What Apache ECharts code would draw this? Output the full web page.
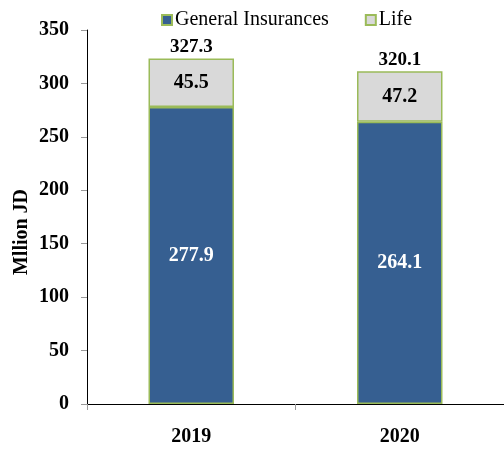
<!DOCTYPE html>
<html><head><meta charset="utf-8">
<script src="https://cdn.jsdelivr.net/npm/echarts@6/dist/echarts.min.js"></script>
<style>html,body{margin:0;padding:0;background:#fff}#c{width:504px;height:449px}</style>
</head><body><div id="c"></div>
<script>
const categories = ['2019', '2020'];
const generalIns = [277.9, 264.1];
const life = [45.5, 47.2];
const totals = [327.3, 320.1];
const yTicks = [0, 50, 100, 150, 200, 250, 300, 350];
const yAxisTitle = 'Mllion JD';

const font = '"Liberation Serif","Times New Roman",serif';
const chart = echarts.init(document.getElementById('c'));
chart.setOption({
  animation: false,
  textStyle: {fontFamily: font},
  legend: {
    top: 5, left: 156, itemGap: 36, itemWidth: 10, itemHeight: 10,
    icon: 'rect',
    textStyle: {fontFamily: font, fontSize: 20, color: '#000', padding: [0, 0, 0, -2]},
    data: ['General Insurances', 'Life']
  },
  grid: {left: 87, right: -5, top: 30, bottom: 45, containLabel: false},
  xAxis: {
    type: 'category', data: categories,
    axisLine: {lineStyle: {color: '#000', width: 1}},
    axisTick: {show: true, length: 6, lineStyle: {color: '#999'}},
    axisLabel: {fontFamily: font, fontSize: 20, fontWeight: 'bold', color: '#000', margin: 23}
  },
  yAxis: {
    type: 'value', min: yTicks[0], max: yTicks[yTicks.length - 1], interval: 50,
    axisLine: {show: true, lineStyle: {color: '#000', width: 1}},
    axisTick: {show: true, length: 6, lineStyle: {color: '#999'}},
    axisLabel: {fontFamily: font, fontSize: 20, fontWeight: 'bold', color: '#000', margin: 18},
    splitLine: {show: false}
  },
  graphic: [{
    type: 'text', x: 22, y: 232, rotation: Math.PI / 2,
    style: {text: yAxisTitle, font: 'bold 20px ' + font, fill: '#000', align: 'center', verticalAlign: 'middle'}
  }],
  series: [
    {
      name: 'General Insurances', type: 'bar', stack: 's', data: generalIns, barWidth: '41%',
      itemStyle: {color: '#365F91', borderColor: '#9BBB59', borderWidth: 1.5},
      label: {show: true, position: 'inside', color: '#fff', fontFamily: font, fontSize: 20, fontWeight: 'bold',
        formatter: p => p.value.toFixed(1)}
    },
    {
      name: 'Life', type: 'bar', stack: 's', data: life, barWidth: '41%',
      itemStyle: {color: '#D9D9D9', borderColor: '#9BBB59', borderWidth: 1.5},
      label: {show: true, position: 'inside', color: '#000', fontFamily: font, fontSize: 20, fontWeight: 'bold',
        formatter: p => p.value.toFixed(1)}
    },
    {
      name: 'Total', type: 'bar', stack: 's', data: totals.map(() => 0), barWidth: '41%',
      itemStyle: {color: 'transparent'},
      label: {show: true, position: 'top', distance: 2, color: '#000', fontFamily: font, fontSize: 19, fontWeight: 'bold',
        formatter: p => totals[p.dataIndex].toFixed(1)}
    }
  ]
});
</script></body></html>
